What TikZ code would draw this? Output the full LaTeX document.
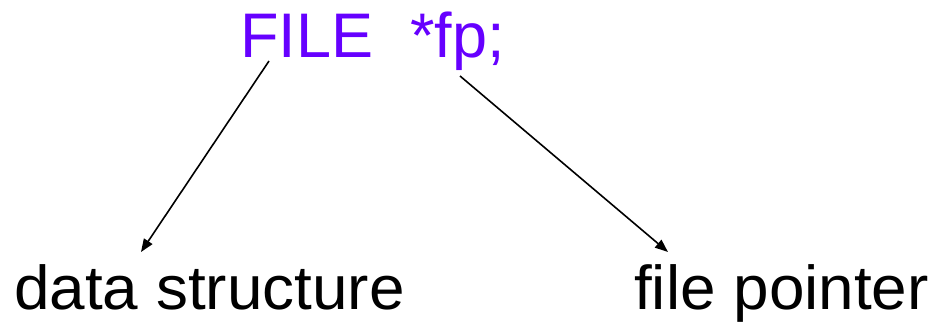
\documentclass[tikz,border=0pt]{standalone}
\usepackage{fontspec}
\setmainfont{Liberation Sans}
\usetikzlibrary{arrows.meta}
\definecolor{codepurple}{RGB}{102,0,255}
\tikzset{
  lbl/.style={inner sep=0pt, anchor=base west, font=\fontsize{62}{70}\selectfont},
  code/.style={inner sep=0pt, anchor=base west, font=\fontsize{63}{70}\selectfont, text=codepurple},
  conn/.style={line width=1.6pt, -{Triangle[length=13pt,width=10pt]}}
}
\begin{document}
\begin{tikzpicture}[x=1pt,y=1pt]
\useasboundingbox (0,0) rectangle (937,323);
\node[code] (file) at (240,265) {FILE};
\node[code] (fp) at (410,265) {*fp;};
\node[lbl] (ds) at (14,13) {\scalebox{1.03}[1]{data structure}};
\node[lbl] (fptr) at (634,13) {\scalebox{1.03}[1]{file pointer}};
\coordinate (s1) at (269,262);
\coordinate (e1) at (141,71);
\coordinate (s2) at (460,247);
\coordinate (e2) at (668,71);
\draw[conn] (s1) -- (e1);
\draw[conn] (s2) -- (e2);
\end{tikzpicture}
\end{document}
